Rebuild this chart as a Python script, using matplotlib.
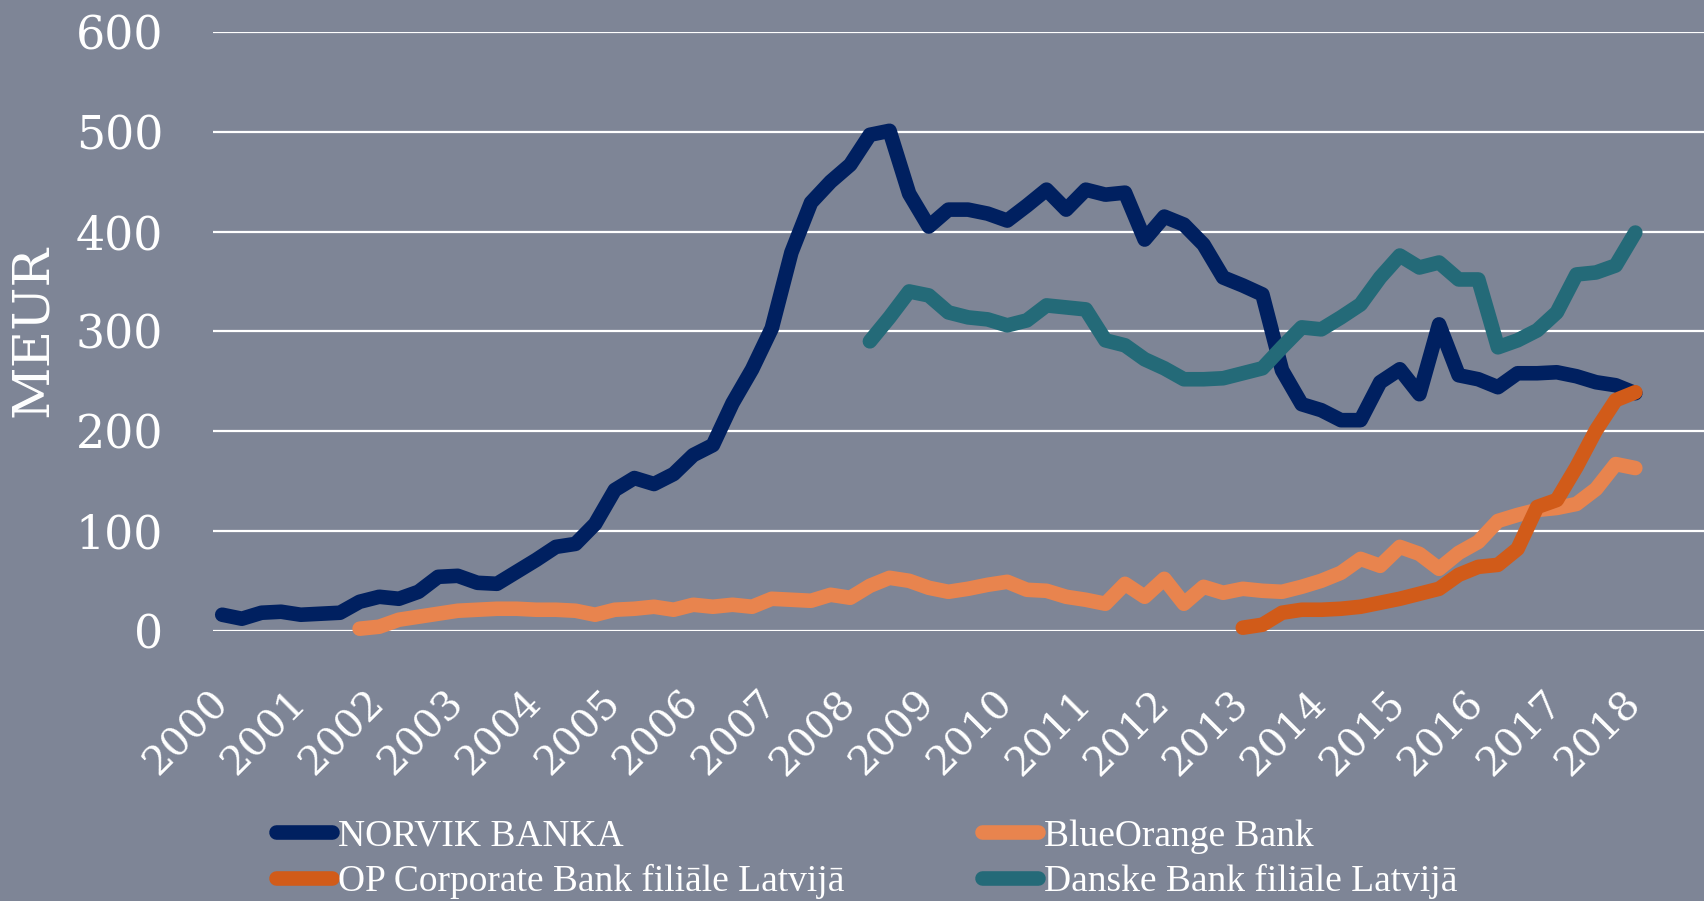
import matplotlib
matplotlib.use("Agg")
import matplotlib.pyplot as plt
import numpy as np
from matplotlib.lines import Line2D

# quarterly observations, index 0 = 2000 Q1 ... 72 = 2018 Q1
years = [str(y) for y in range(2000, 2019)]

norvik = [16, 12, 18, 19, 16, 17, 18, 29, 34, 32, 39, 54, 55, 48, 47, 59, 71, 84, 87, 107,
          141, 153, 147, 157, 176, 186, 228, 262, 303, 379, 429, 450, 467, 497, 501, 438, 405, 422, 422, 418,
          411, 426, 442, 422, 442, 437, 439, 392, 415, 407, 387, 354, 346, 337, 261, 227, 221, 211, 211, 249,
          262, 237, 307, 256, 252, 244, 258, 258, 259, 255, 249, 246, 238]

blueorange_start = 7
blueorange = [2, 4, 11, 14, 17, 20, 21, 22, 22, 21, 21, 20, 16,
              21, 22, 24, 21, 26, 24, 26, 24, 32, 31, 30, 36, 33, 45, 53, 50, 43, 39, 42, 46,
              49, 41, 40, 34, 31, 27, 47, 34, 52, 27, 44, 38, 42, 40, 39, 44, 50, 58, 72, 65,
              84, 77, 62, 78, 89, 110, 116, 121, 123, 127, 142, 167, 163]

op_start = 52
op_bank = [3, 6, 18, 21, 21, 22, 24, 28, 32, 37, 42, 56, 64, 66, 82, 124, 131, 164, 201, 231, 239]

danske_start = 33
danske = [290, 314, 340, 336, 319, 314, 312, 306, 311, 326, 324, 322, 291, 286, 272, 263, 252, 252, 253,
          258, 263, 284, 304, 302, 314, 327, 354, 376, 364, 369, 352, 352, 284, 291, 301, 319, 357, 359,
          366, 399]

names = ["NORVIK BANKA", "BlueOrange Bank", "OP Corporate Bank filiāle Latvijā", "Danske Bank filiāle Latvijā"]
colors = ["#002060", "#E8844E", "#D15B19", "#246A78"]

W, H = 1704, 901
BG = "#7e8596"
fig = plt.figure(figsize=(W / 100, H / 100), dpi=100, facecolor=BG)
ax = fig.add_axes([213 / W, (H - 630.7) / H, 1 - 213 / W, (630.7 - 32) / H])
ax.set_facecolor(BG)

LW = 10.5
series = [(0, norvik), (blueorange_start, blueorange), (op_start, op_bank), (danske_start, danske)]
for (start, vals), c in zip(series, colors):
    x = np.arange(start, start + len(vals))
    ax.plot(x, vals, color=c, lw=LW, solid_capstyle="round", solid_joinstyle="round", clip_on=False, zorder=3)

ax.set_xlim(-0.47, 75.5)
ax.set_ylim(0, 600)
ax.set_yticks(range(0, 601, 100))
ax.set_yticklabels([str(v) for v in range(0, 601, 100)], fontfamily="DejaVu Serif", fontsize=33, color="white")
ax.tick_params(axis="y", length=0, pad=36)
ax.set_xticks(range(0, 73, 4))
ax.set_xticklabels(years, fontfamily="DejaVu Serif", fontsize=29, color="white")
for lab in ax.get_xticklabels():
    lab.set_rotation(45)
    lab.set_ha("right")
    lab.set_va("center")
    lab.set_rotation_mode("anchor")
ax.tick_params(axis="x", length=0, pad=48)
ax.grid(axis="y", color="white", lw=1.6, zorder=1)
ax.set_axisbelow(True)
for s in ax.spines.values():
    s.set_visible(False)

fig.text(33 / W, 1 - 331 / H, "MEUR", rotation=90, ha="center", va="center",
         fontfamily="DejaVu Serif", fontsize=37, color="white")

handles = [Line2D([], [], color=c, lw=LW, solid_capstyle="round") for c in colors]
leg_kw = dict(frameon=False, handlelength=1.5, handletextpad=0.15,
              labelspacing=0.28, borderpad=0, borderaxespad=0, labelcolor="white",
              prop={"family": "Liberation Serif", "size": 27})
l1 = fig.legend([handles[0], handles[2]], [names[0], names[2]], loc="upper left",
                bbox_to_anchor=(276 / W, 1 - 819 / H), **leg_kw)
l2 = fig.legend([handles[1], handles[3]], [names[1], names[3]], loc="upper left",
                bbox_to_anchor=(982 / W, 1 - 819 / H), **leg_kw)

fig.savefig("out.png", dpi=100, facecolor=BG)
